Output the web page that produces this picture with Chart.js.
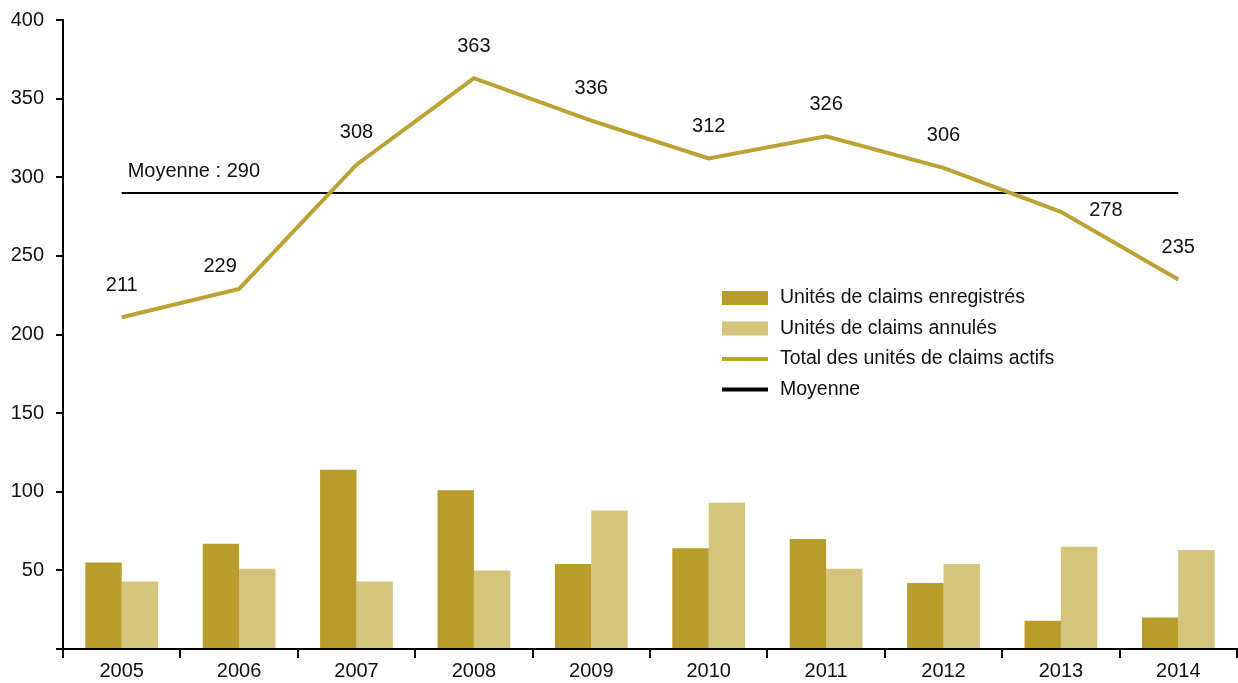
<!DOCTYPE html>
<html lang="fr">
<head>
<meta charset="utf-8">
<title>Unités de claims</title>
<script src="https://cdn.jsdelivr.net/npm/chart.js@4/dist/chart.umd.min.js"></script>
<style>
  html, body { margin: 0; padding: 0; background: #fff; }
  #wrap { width: 1238px; height: 683px; position: relative; }
</style>
</head>
<body>
<div id="wrap"><canvas id="c"></canvas></div>
<script>
// Unités de claims par année : enregistrés / annulés (barres), total actif (ligne), moyenne
const YEARS = ["2005", "2006", "2007", "2008", "2009", "2010", "2011", "2012", "2013", "2014"];
const ENREGISTRES = [55, 67, 114, 101, 54, 64, 70, 42, 18, 20];
const ANNULES = [43, 51, 43, 50, 88, 93, 51, 54, 65, 63];
const TOTAL_ACTIFS = [211, 229, 308, 363, 336, 312, 326, 306, 278, 235];
const MOYENNE = 290;
const Y_TICKS = [0, 50, 100, 150, 200, 250, 300, 350, 400];

const FONT = "'Liberation Sans', Arial, sans-serif";
const DARK = "#b89d2a";
const LIGHT = "#d4c47c";
const LINE = "#bba232";

// décalage des étiquettes de valeur quand elles gênent la courbe
const LABEL_SHIFT = { 1: [-19, 10], 8: [45, 31] };

const valueLabels = {
  id: "valueLabels",
  afterDatasetsDraw(chart) {
    const ctx = chart.ctx;
    const meta = chart.getDatasetMeta(2);
    ctx.save();
    ctx.font = `20px ${FONT}`;
    ctx.fillStyle = "#111";
    ctx.textAlign = "center";
    ctx.textBaseline = "middle";
    meta.data.forEach((pt, i) => {
      const [dx, dy] = LABEL_SHIFT[i] || [0, 0];
      ctx.fillText(String(TOTAL_ACTIFS[i]), pt.x + dx, pt.y - 32 + dy);
    });
    // libellé de la moyenne au-dessus du début de la ligne
    const m = chart.getDatasetMeta(3).data[0];
    ctx.textAlign = "left";
    ctx.fillText(`Moyenne : ${MOYENNE}`, m.x + 6, m.y - 21);
    ctx.restore();
  },
};

const legendBox = {
  id: "legendBox",
  afterDraw(chart) {
    const ctx = chart.ctx;
    const items = chart.data.datasets;
    const x0 = 722, y0 = 298, step = 30.5;
    ctx.save();
    ctx.font = `19.5px ${FONT}`;
    ctx.textBaseline = "middle";
    ctx.textAlign = "left";
    items.forEach((ds, i) => {
      const y = y0 + i * step;
      if (ds.type === "line") {
        ctx.fillStyle = ds.borderColor;
        ctx.fillRect(x0, y - 2, 46, 4);
      } else {
        ctx.fillStyle = ds.backgroundColor;
        ctx.fillRect(x0, y - 7, 46, 14);
      }
      ctx.fillStyle = "#111";
      ctx.fillText(ds.label, x0 + 58, y);
    });
    ctx.restore();
  },
};

new Chart(document.getElementById("c"), {
  type: "bar",
  data: {
    labels: YEARS,
    datasets: [
      { label: "Unités de claims enregistrés", data: ENREGISTRES, backgroundColor: DARK, order: 3 },
      { label: "Unités de claims annulés", data: ANNULES, backgroundColor: LIGHT, order: 3 },
      { type: "line", label: "Total des unités de claims actifs", data: TOTAL_ACTIFS, borderColor: LINE, backgroundColor: LINE, borderWidth: 4, pointRadius: 0, tension: 0, order: 1 },
      { type: "line", label: "Moyenne", data: YEARS.map(() => MOYENNE), borderColor: "#000", backgroundColor: "#000", borderWidth: 2, pointRadius: 0, order: 2 },
    ],
  },
  options: {
    responsive: true,
    maintainAspectRatio: false,
    animation: false,
    events: [],
    layout: { padding: { top: 20, right: 1, left: 0, bottom: 0 } },
    datasets: { bar: { categoryPercentage: 0.62, barPercentage: 1 } },
    plugins: { legend: { display: false }, tooltip: { enabled: false } },
    scales: {
      x: {
        grid: { display: true, drawOnChartArea: false, drawTicks: true, tickLength: 9, color: "#000", lineWidth: 2, offset: true },
        border: { display: true, color: "#000", width: 2 },
        ticks: { color: "#111", font: { family: FONT, size: 20 }, padding: 1 },
        afterFit: (s) => { s.height = 34; s.paddingLeft = 0; s.paddingRight = 0; },
      },
      y: {
        min: 0,
        max: 400,
        afterBuildTicks: (s) => { s.ticks = Y_TICKS.map((v) => ({ value: v })); },
        grid: { display: true, drawOnChartArea: false, drawTicks: true, tickLength: 7, color: "#000", lineWidth: 2 },
        border: { display: true, color: "#000", width: 2 },
        ticks: { color: "#111", font: { family: FONT, size: 20 }, padding: 12, callback: (v) => (v === 0 ? "" : v) },
        afterFit: (s) => { s.width = 63; s.paddingTop = 0; s.paddingBottom = 0; },
      },
    },
  },
  plugins: [valueLabels, legendBox],
});
</script>
</body>
</html>
